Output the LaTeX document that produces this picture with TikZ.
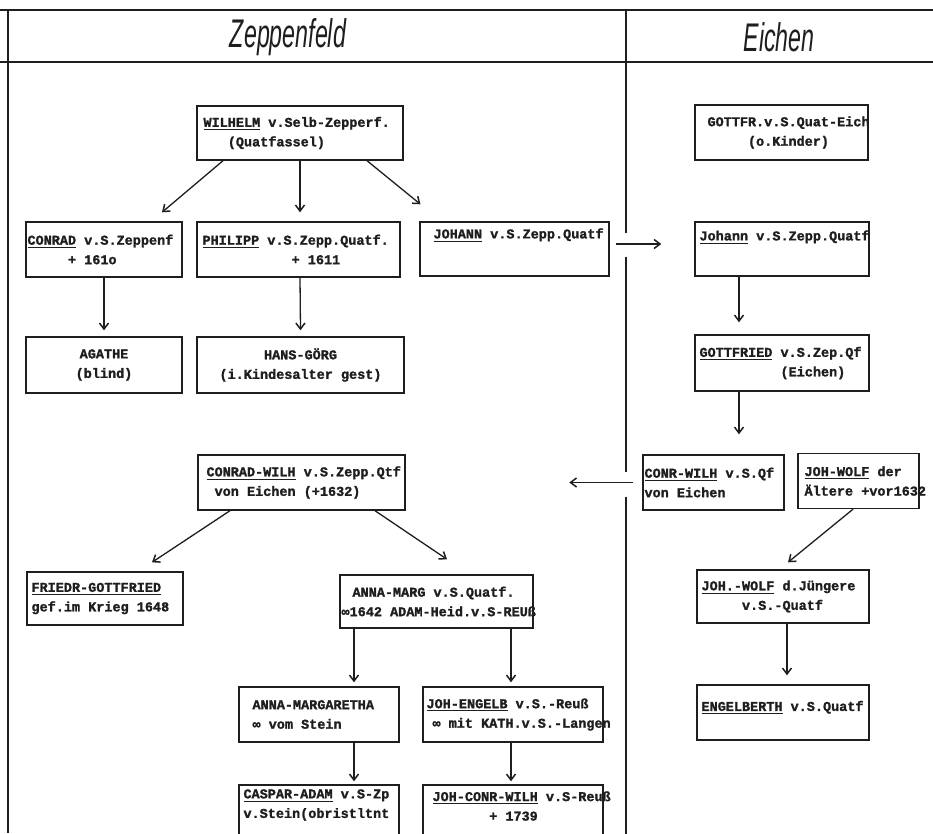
\documentclass[tikz,border=0pt]{standalone}
\usepackage{fontspec}
\usetikzlibrary{arrows.meta,calc}
\newfontfamily\tw{Liberation Mono}[FakeBold=1.5]
\newfontfamily\hdr{Liberation Sans}
\definecolor{ink}{RGB}{30,30,30}
\newsavebox\ulbox
\newcommand\ul[1]{\sbox\ulbox{#1}\rlap{\rule[-3.2pt]{\wd\ulbox}{1pt}}\usebox\ulbox}
\newcommand\ind[1]{\hspace*{#1\dimexpr0.6em\relax}}
\begin{document}
\begin{tikzpicture}[x=1pt,y=-1pt,
  box/.style={draw=ink, line width=1.4pt, inner sep=0pt, rectangle},
  txt/.style={inner sep=0pt, align=left, text=ink, font=\tw\bfseries\fontsize{13.5}{19.5}\selectfont},
  ctxt/.style={txt, align=center},
  arr/.style={draw=ink, line width=1.3pt, -{Straight Barb[length=6pt,width=9pt,line width=1.5pt]}},
  rule/.style={draw=ink, line width=1.3pt},
  hrule/.style={draw=ink, line width=2.4pt},
  head/.style={inner sep=0pt, text=ink, font=\hdr\itshape\fontsize{40}{40}\selectfont}]
\useasboundingbox (0,0) rectangle (933,833);
\clip (0,0) rectangle (933,833);
\fill[white] (0,0) rectangle (933,833);
% frame
\draw[hrule] (0,10) -- (933,10);
\draw[hrule] (0,62) -- (933,62);
\draw[rule] (8,10) -- (8,833);
\draw[rule] (626,10) -- (626,233);
\draw[rule] (626,257) -- (626,472);
\draw[rule] (626,497) -- (626,840);
\node[head] (hz) at (288,37) {\scalebox{0.58}[1]{Zeppenfeld}};
\node[head] (he) at (779,37) {\scalebox{0.58}[1]{Eichen}};
% boxes
\node[box, minimum width=206pt, minimum height=54pt] (wil) at (300,133) {};
\node[txt, anchor=west] (wilt) at ($(wil.west)+(7,0)$) {\ul{WILHELM} v.Selb-Zepperf.\\\ind{3}(Quatfassel)};
\node[box, minimum width=156pt, minimum height=55pt] (conrad) at (104,249.5) {};
\node[txt, anchor=west] (conradt) at ($(conrad.west)+(2,0)$) {\ul{CONRAD} v.S.Zeppenf\\\ind{5}+ 161o};
\node[box, minimum width=203pt, minimum height=55pt] (phil) at (298.5,249.5) {};
\node[txt, anchor=west] (philt) at ($(phil.west)+(6,0)$) {\ul{PHILIPP} v.S.Zepp.Quatf.\\\ind{11}+ 1611};
\node[box, minimum width=189pt, minimum height=54pt] (johann) at (514.5,249) {};
\node[txt, anchor=west] (johannt) at ($(johann.west)+(14,-14)$) {\ul{JOHANN} v.S.Zepp.Quatf};
\node[box, minimum width=156pt, minimum height=56pt] (agathe) at (104,365) {};
\node[ctxt] (agathet) at (agathe.center) {AGATHE\\(blind)};
\node[box, minimum width=207pt, minimum height=56pt] (hans) at (300.5,365) {};
\node[ctxt] (hanst) at (hans.center) {HANS-GÖRG\\(i.Kindesalter gest)};
% right column
\node[box, minimum width=173pt, minimum height=55pt] (gottfr) at (781.5,132.5) {};
\node[txt, anchor=west] (gottfrt) at ($(gottfr.west)+(13,0)$) {GOTTFR.v.S.Quat-Eich\\\ind{5}(o.Kinder)};
\node[box, minimum width=174pt, minimum height=54pt] (johannR) at (782,249) {};
\node[txt, anchor=west] (johannRt) at ($(johannR.west)+(5,-12)$) {\ul{Johann} v.S.Zepp.Quatf};
\node[box, minimum width=174pt, minimum height=56pt] (gottfried) at (782,363) {};
\node[txt, anchor=west] (gottfriedt) at ($(gottfried.west)+(5,0)$) {\ul{GOTTFRIED} v.S.Zep.Qf\\\ind{10}(Eichen)};
\node[box, minimum width=141pt, minimum height=55pt] (conrw) at (713.5,482.5) {};
\node[txt, anchor=west] (conrwt) at ($(conrw.west)+(2,0)$) {\ul{CONR-WILH} v.S.Qf\\von Eichen};
\node[box, minimum width=121pt, minimum height=55pt] (johwolf) at (858.5,481) {};
\node[txt, anchor=west] (johwolft) at ($(johwolf.west)+(7,0)$) {\ul{JOH-WOLF} der\\Ältere +vor1632};
\node[box, minimum width=172pt, minimum height=53pt] (johwolfj) at (783,596.5) {};
\node[txt, anchor=west] (johwolfjt) at ($(johwolfj.west)+(5,0)$) {\ul{JOH.-WOLF} d.Jüngere\\\ind{5}v.S.-Quatf};
\node[box, minimum width=172pt, minimum height=55pt] (engel) at (783,712.5) {};
\node[txt, anchor=west] (engelt) at ($(engel.west)+(5,-5)$) {\ul{ENGELBERTH} v.S.Quatf};
% left lower
\node[box, minimum width=207pt, minimum height=55pt] (conradw) at (301.5,482.5) {};
\node[txt, anchor=west] (conradwt) at ($(conradw.west)+(9,0)$) {\ul{CONRAD-WILH} v.S.Zepp.Qtf\\\ind{1}von Eichen (+1632)};
\node[box, minimum width=156pt, minimum height=53pt] (friedr) at (105,598.5) {};
\node[txt, anchor=west] (friedrt) at ($(friedr.west)+(5,0)$) {\ul{FRIEDR-GOTTFRIED}\\gef.im Krieg 1648};
\node[box, minimum width=193pt, minimum height=53pt] (annam) at (436.5,601.5) {};
\node[txt, anchor=west] (annamt) at ($(annam.west)+(2,0)$) {\hspace*{11pt}ANNA-MARG v.S.Quatf.\\∞1642 ADAM-Heid.v.S-REUß};
\node[box, minimum width=160pt, minimum height=55pt] (annamg) at (319,714.5) {};
\node[txt, anchor=west] (annamgt) at ($(annamg.west)+(14,0)$) {ANNA-MARGARETHA\\∞ vom Stein};
\node[box, minimum width=180pt, minimum height=55pt] (johe) at (513,714.5) {};
\node[txt, anchor=west] (johet) at ($(johe.west)+(4,0)$) {\ul{JOH-ENGELB} v.S.-Reuß\\\hspace*{6pt}∞ mit KATH.v.S.-Langen};
\node[box, minimum width=160pt, minimum height=70pt] (caspar) at (319,820) {};
\node[txt, anchor=west] (caspart) at ($(caspar.west)+(5,-15)$) {\ul{CASPAR-ADAM} v.S-Zp\\v.Stein(obristltnt};
\node[box, minimum width=180pt, minimum height=70pt] (johcw) at (513,820) {};
\node[txt, anchor=west] (johcwt) at ($(johcw.west)+(10,-14)$) {\ul{JOH-CONR-WILH} v.S-Reuß\\\ind{7}+ 1739};
% arrows
\draw[arr] ($(wil.south)+(-77,0)$) -- ($(conrad.north)+(58,-9)$);
\draw[arr] ($(wil.south)+(0,0)$) -- ($(phil.north)+(1.5,-9)$);
\draw[arr] ($(wil.south)+(67,0)$) -- ($(johann.north)+(-94,-17)$);
\draw[arr] (conrad.south) -- ($(agathe.north)+(0,-6)$);
\draw[arr] ($(phil.south)+(1.5,0)$) -- ($(hans.north)+(0,-6)$);
\draw[arr] ($(johann.east)+(6,-5)$) -- ($(johannR.west)+(-33,-5)$);
\draw[arr] ($(johannR.south)+(-43,0)$) -- ($(gottfried.north)+(-43,-12)$);
\draw[arr] ($(gottfried.south)+(-43,0)$) -- ($(conrw.north)+(25.5,-20)$);
\coordinate (cwtip) at ($(conrw.west)+(-73,0)$);
\draw[arr] ($(conrw.west)+(-9,0)$) -- (cwtip);
\draw[arr] ($(conradw.south)+(-71.5,0)$) -- ($(friedr.north)+(47,-9)$);
\draw[arr] ($(conradw.south)+(73.5,0)$) -- ($(annam.north)+(10.5,-15)$);
\draw[arr] ($(johwolf.south)+(-5.5,0)$) -- ($(johwolfj.north)+(5,-7)$);
\draw[arr] ($(johwolfj.south)+(4,0)$) -- ($(engel.north)+(4,-9)$);
\draw[arr] ($(annam.south)+(-82.5,0)$) -- ($(annamg.north)+(35,-4)$);
\draw[arr] ($(annam.south)+(74.5,0)$) -- ($(johe.north)+(-2,-4)$);
\draw[arr] ($(annamg.south)+(35,0)$) -- ($(caspar.north)+(35,-3)$);
\draw[arr] ($(johe.south)+(-2,0)$) -- ($(johcw.north)+(-2,-3)$);
\end{tikzpicture}
\end{document}
